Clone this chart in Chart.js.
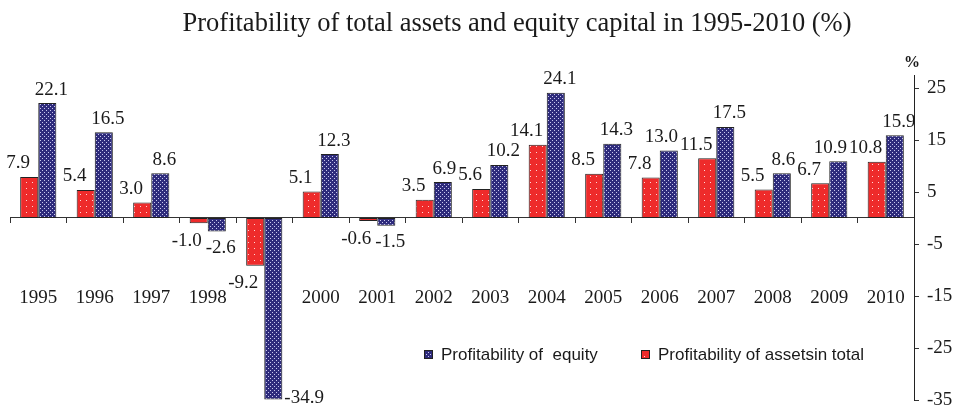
<!DOCTYPE html>
<html>
<head>
<meta charset="utf-8">
<script src="https://cdn.jsdelivr.net/npm/chart.js@4.4.0/dist/chart.umd.min.js"></script>
<style>
  html, body { margin: 0; padding: 0; background: #fff; }
  #wrap { width: 962px; height: 410px; }
</style>
</head>
<body>
<div id="wrap"><canvas id="graficoRentabilidade"></canvas></div>
<script>
const tituloGrafico = 'Profitability of total assets and equity capital in 1995-2010 (%)'
const anos = ['1995', '1996', '1997', '1998', '1999', '2000', '2001', '2002', '2003', '2004', '2005', '2006', '2007', '2008', '2009', '2010']
// the 1999 label sits under the bars in the original, so it is not shown
const anosOcultos = ['1999']
const rentabilidadeAtivos = [7.9, 5.4, 3.0, -1.0, -9.2, 5.1, -0.6, 3.5, 5.6, 14.1, 8.5, 7.8, 11.5, 5.5, 6.7, 10.8]
const rentabilidadeCapital = [22.1, 16.5, 8.6, -2.6, -34.9, 12.3, -1.5, 6.9, 10.2, 24.1, 14.3, 13.0, 17.5, 8.6, 10.9, 15.9]
const ticksY = [25, 15, 5, -5, -15, -25, -35]
const rotuloAtivos = 'Profitability of assetsin total'
const rotuloCapital = 'Profitability of  equity'

const serif = '"Liberation Serif", "Times New Roman", serif'
const sans = '"Liberation Sans", Arial, sans-serif'

function criarPadrao(fundo, ponto, tam, pontos) {
    let c = document.createElement('canvas')
    c.width = tam
    c.height = tam
    let ctx = c.getContext('2d')
    ctx.fillStyle = fundo
    ctx.fillRect(0, 0, tam, tam)
    ctx.fillStyle = ponto
    pontos.forEach(p => ctx.fillRect(p[0], p[1], 1, 1))
    return ctx.createPattern(c, 'repeat')
}

const padraoVermelho = criarPadrao('#ee2b2b', '#ffd6d6', 6, [[2, 2]])
const padraoAzul = criarPadrao('#2e2b7c', '#c9c8ee', 4, [[0, 0], [2, 2]])

function semPadding(axis) {
    axis.paddingLeft = 0
    axis.paddingRight = 0
    axis.paddingTop = 0
    axis.paddingBottom = 0
}

const rotulosPlugin = {
    id: 'rotulos',
    afterDraw(chart) {
        const ctx = chart.ctx
        const area = chart.chartArea
        ctx.save()

        // title
        ctx.fillStyle = '#1a1a1a'
        ctx.font = '26.5px ' + serif
        ctx.textAlign = 'center'
        ctx.textBaseline = 'alphabetic'
        ctx.fillText(tituloGrafico, 517, 31)

        // % unit over the right axis
        ctx.font = 'bold 16px ' + serif
        ctx.fillText('%', 912, 67)

        // values on the bars: first work out the boxes, then push apart the ones that collide
        ctx.font = '19px ' + serif
        let rotulos = []
        for (let i = 0; i < anos.length; i++) {
            chart.data.datasets.forEach((ds, di) => {
                const bar = chart.getDatasetMeta(di).data[i]
                const v = ds.data[i]
                const txt = v.toFixed(1)
                const w = ctx.measureText(txt).width
                let r = { txt: txt, w: w }
                if (v >= 0) {
                    r.cx = bar.x + (di == 0 ? -11 : 4)
                    r.top = bar.y - 23
                } else if (bar.y + 24 > area.bottom) {
                    r.cx = bar.x + bar.width / 2 + 2 + w / 2
                    r.top = bar.y - 11
                } else {
                    r.cx = bar.x + (di == 0 ? -12 : 4)
                    r.top = bar.y + (di == 0 ? 8 : 7)
                }
                rotulos.push(r)
            })
        }
        for (let k = 1; k < rotulos.length; k++) {
            const a = rotulos[k - 1]
            const b = rotulos[k]
            const sobrepoeV = Math.abs(a.top - b.top) < 15
            const folga = (b.cx - b.w / 2) - (a.cx + a.w / 2)
            if (sobrepoeV && folga < 2) {
                a.cx -= 2 - folga
            }
        }
        ctx.textAlign = 'center'
        ctx.textBaseline = 'top'
        rotulos.forEach(r => ctx.fillText(r.txt, r.cx, r.top))

        // legend (equity first, as in the original)
        ctx.font = '17px ' + sans
        ctx.textAlign = 'left'
        ctx.textBaseline = 'middle'
        const itens = [
            { x: 424, ds: chart.data.datasets[1] },
            { x: 641, ds: chart.data.datasets[0] }
        ]
        itens.forEach(it => {
            ctx.fillStyle = it.ds.backgroundColor
            ctx.fillRect(it.x, 350, 9, 9)
            ctx.strokeStyle = '#222'
            ctx.lineWidth = 1
            ctx.strokeRect(it.x + 0.5, 350.5, 8, 8)
            ctx.fillStyle = '#1a1a1a'
            ctx.fillText(it.ds.label, it.x + 17, 355)
        })
        ctx.restore()
    }
}

window.graficoRentabilidade = new Chart(document.getElementById('graficoRentabilidade'), {
    type: 'bar',
    data: {
        labels: anos,
        datasets: [
            {
                label: rotuloAtivos,
                data: rentabilidadeAtivos,
                backgroundColor: padraoVermelho,
                borderColor: '#222',
                borderWidth: 1,
                borderSkipped: false
            },
            {
                label: rotuloCapital,
                data: rentabilidadeCapital,
                backgroundColor: padraoAzul,
                borderColor: '#222',
                borderWidth: 1,
                borderSkipped: false
            }
        ]
    },
    options: {
        responsive: true,
        maintainAspectRatio: false,
        animation: false,
        datasets: {
            bar: {
                categoryPercentage: 0.64,
                barPercentage: 1
            }
        },
        plugins: {
            legend: { display: false },
            title: { display: false },
            tooltip: { enabled: false }
        },
        layout: {
            padding: {
                left: 10,
                right: 0,
                top: 75,
                bottom: 10
            }
        },
        scales: {
            x: {
                type: 'category',
                position: { y: 0 },
                afterFit: semPadding,
                grid: {
                    drawOnChartArea: false,
                    drawTicks: true,
                    tickLength: 5,
                    offset: true,
                    color: '#333'
                },
                border: {
                    display: true,
                    color: '#333',
                    width: 1
                },
                ticks: {
                    padding: 64,
                    color: '#1a1a1a',
                    font: { family: serif, size: 19 },
                    maxRotation: 0,
                    autoSkip: false,
                    callback: function (value, index) {
                        return anosOcultos.includes(anos[index]) ? '' : anos[index]
                    }
                }
            },
            y: {
                type: 'linear',
                position: 'right',
                min: -35,
                max: 27.5,
                afterBuildTicks: function (axis) {
                    axis.ticks = ticksY.map(v => ({ value: v }))
                },
                afterFit: function (axis) {
                    axis.width = 48
                    semPadding(axis)
                },
                grid: {
                    drawOnChartArea: false,
                    drawTicks: true,
                    tickLength: 5,
                    color: '#333'
                },
                border: {
                    display: true,
                    color: '#222',
                    width: 1
                },
                ticks: {
                    padding: 8,
                    color: '#1a1a1a',
                    font: { family: serif, size: 19 }
                }
            }
        }
    },
    plugins: [rotulosPlugin]
})
</script>
</body>
</html>
